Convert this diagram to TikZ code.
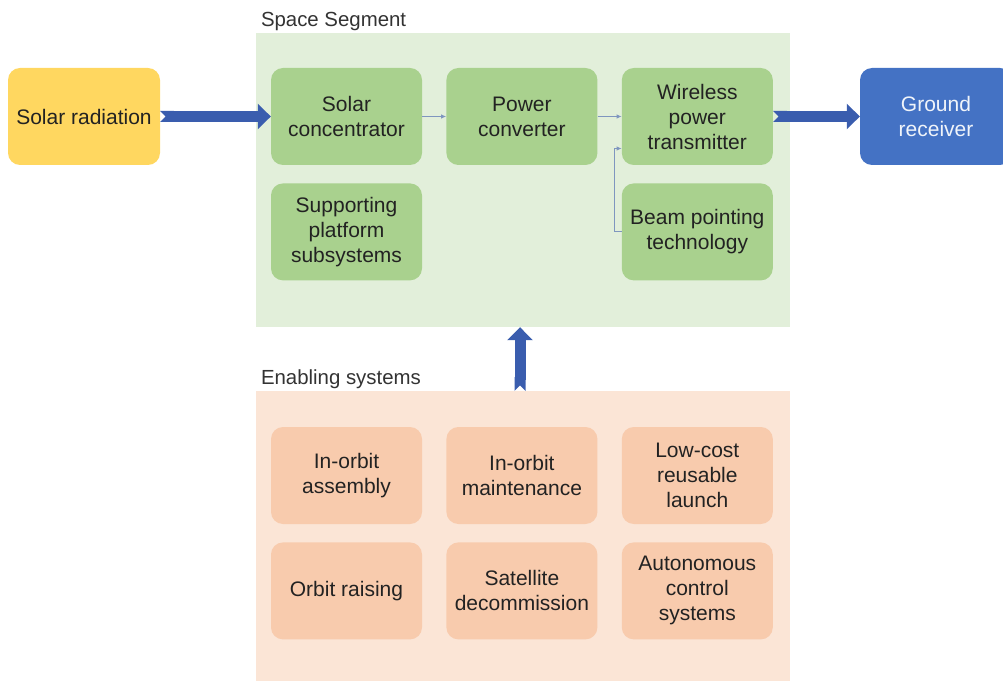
\documentclass[tikz,border=0pt]{standalone}
\usepackage{fontspec}
\setmainfont{Liberation Sans}
\usepackage{tikz}
\usetikzlibrary{positioning}
\usetikzlibrary{arrows.meta}
\usetikzlibrary{calc}

\definecolor{spacebg}{HTML}{E2EFDA}
\definecolor{leafgreen}{HTML}{A9D18E}
\definecolor{enablebg}{HTML}{FBE5D6}
\definecolor{peach}{HTML}{F8CBAD}
\definecolor{sunyellow}{HTML}{FFD760}
\definecolor{groundblue}{HTML}{4472C4}
\definecolor{beamblue}{HTML}{3A5DAE}
\definecolor{linkblue}{HTML}{7F96BF}
\definecolor{inktext}{HTML}{222222}
\definecolor{labeltext}{HTML}{333333}

\begin{document}
\begin{tikzpicture}
	[x=1pt, y=1pt, node distance={18pt and 24pt},
	font=\fontsize{21}{25}\selectfont,
	box/.style = {rounded corners=12pt, minimum width=151pt, minimum height=97pt, align=center, inner sep=2pt, text=inktext},
	greenbox/.style = {box, fill=leafgreen},
	peachbox/.style = {box, fill=peach},
	panel/.style = {inner sep=0pt, minimum width=534pt},
	heading/.style = {inner sep=0pt, anchor=south west, text=labeltext, font=\fontsize{20.4}{24}\selectfont},
	bigarrow/.style = {draw=beamblue, line width=11pt, {Triangle Cap[reversed]}-{Triangle[length=13pt, width=25pt]}},
	link/.style = {draw=linkblue, line width=0.9pt, -{Latex[length=5pt, width=4.5pt]}}]
	\useasboundingbox (0,0) rectangle (1003,681);
	% backgrounds
	\node[panel, fill=spacebg, minimum height=294pt] (space) at (523,501) {};
	\node[panel, fill=enablebg, minimum height=290pt] (enabling) at (523,145) {};
	\node[heading] (spacelbl) at ([xshift=5pt, yshift=2pt]space.north west) {Space Segment};
	\node[heading] (enablelbl) at ([xshift=5pt, yshift=2pt]enabling.north west) {Enabling systems};
	% space segment
	\node[greenbox] (conc) at (346.5,564.5) {Solar\\concentrator};
	\node[greenbox] (conv) [right = of conc] {Power\\converter};
	\node[greenbox] (wpt) [right = of conv] {Wireless\\power\\transmitter};
	\node[greenbox] (platform) [below = of conc] {Supporting\\platform\\subsystems};
	\node[greenbox] (beam) [below = of wpt] {Beam pointing\\technology};
	\node[box, fill=sunyellow, minimum width=152pt] (solar) at (84,564.5) {Solar radiation};
	\node[box, fill=groundblue, minimum width=152pt, text=white!92!groundblue] (ground) at (936,564.5) {Ground\\receiver};
	% enabling systems
	\node[peachbox] (assembly) at (346.5,205.5) {In-orbit\\assembly};
	\node[peachbox] (maint) [right = of assembly] {In-orbit\\maintenance};
	\node[peachbox] (launch) [right = of maint] {Low-cost\\reusable\\launch};
	\node[peachbox] (raising) [below = of assembly] {Orbit raising};
	\node[peachbox] (decom) [below = of maint] {Satellite\\decommission};
	\node[peachbox] (control) [below = of launch] {Autonomous\\control\\systems};
	% arrows
	\draw[bigarrow] (solar.east) -- (conc.west);
	\draw[bigarrow] (wpt.east) -- (ground.west);
	\draw[bigarrow] ([xshift=-3pt]enabling.north) -- ([xshift=-3pt]space.south);
	\draw[link] (conc.east) -- (conv.west);
	\draw[link] (conv.east) -- (wpt.west);
	\draw[link] (beam.west) -- ++(-7,0) |- ($(wpt.west)+(0,-32)$);
\end{tikzpicture}
\end{document}
